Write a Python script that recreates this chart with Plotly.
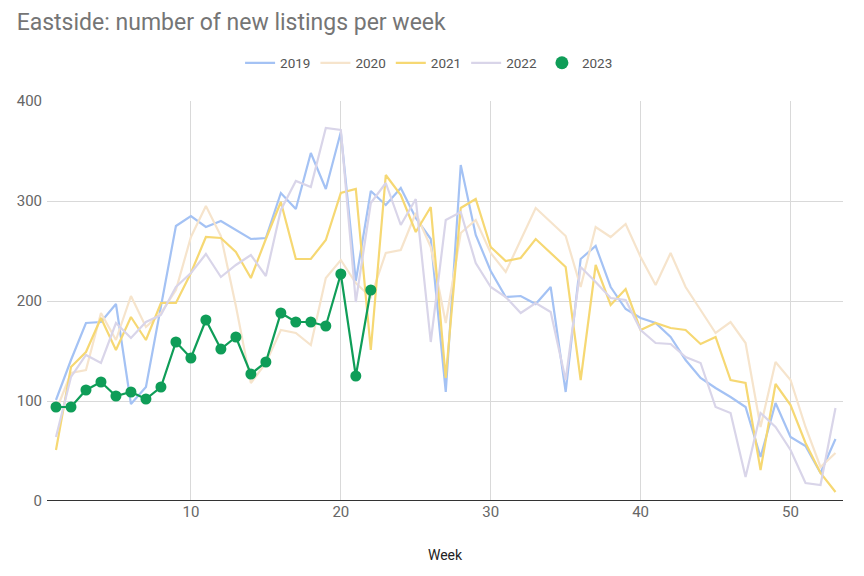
import plotly.graph_objects as go

weeks = list(range(1, 54))

y2019 = [101, 141, 178, 179, 197, 97, 114, 194, 275, 285, 274, 280, 271, 262, 263, 308, 292, 348, 312, 369,
         220, 310, 296, 313, 283, 262, 109, 336, 266, 230, 204, 205, 197, 214, 109, 242, 255, 214, 192, 183,
         178, 164, 141, 123, 113, 104, 94, 44, 98, 64, 55, 28, 62]
y2020 = [90, 128, 131, 188, 161, 205, 174, 188, 211, 264, 295, 265, 195, 118, 138, 171, 168, 156, 223, 241,
         218, 204, 248, 251, 288, 254, 178, 268, 281, 248, 229, 261, 293, 279, 265, 214, 274, 264, 277, 244,
         216, 248, 214, 191, 168, 179, 158, 74, 139, 121, 74, 34, 48]
y2021 = [51, 134, 149, 183, 151, 184, 161, 198, 198, 228, 264, 263, 249, 223, 262, 299, 242, 242, 261, 308,
         312, 151, 326, 306, 269, 294, 123, 293, 302, 254, 240, 243, 262, 248, 234, 121, 236, 196, 212, 171,
         178, 173, 171, 157, 164, 121, 118, 31, 117, 96, 58, 28, 9]
y2022 = [64, 124, 146, 138, 178, 163, 179, 186, 214, 228, 247, 224, 236, 246, 225, 291, 320, 314, 373, 371,
         199, 298, 318, 276, 302, 159, 281, 289, 238, 214, 204, 188, 198, 189, 121, 234, 219, 203, 201, 171,
         158, 157, 144, 138, 94, 88, 24, 88, 74, 51, 18, 16, 93]
y2023 = [94, 94, 111, 119, 105, 109, 102, 114, 159, 143, 181, 152, 164, 127, 139, 188, 179, 179, 175, 227,
         125, 211]

series_names = ["2019", "2020", "2021", "2022"]
series_values = [y2019, y2020, y2021, y2022]
series_colors = ["#a4c2f4", "#f6e4cc", "#f6d873", "#d9d5e9"]

x_ticks = [10, 20, 30, 40, 50]
y_ticks = [0, 100, 200, 300, 400]

fig = go.Figure()
for name, vals, col in zip(series_names, series_values, series_colors):
    fig.add_trace(go.Scatter(x=weeks[:len(vals)], y=vals, mode="lines", name=name,
                             line=dict(color=col, width=2.2)))
fig.add_trace(go.Scatter(x=weeks[:len(y2023)], y=y2023, mode="lines+markers", name="2023",
                         line=dict(color="#0f9d58", width=2.2),
                         marker=dict(color="#0f9d58", size=11), showlegend=False))
fig.add_trace(go.Scatter(x=[None], y=[None], mode="markers", name="2023",
                         marker=dict(color="#0f9d58", size=13)))

fig.update_layout(
    width=864, height=576,
    margin=dict(l=39, r=29, t=93, b=83, autoexpand=False),
    plot_bgcolor="white", paper_bgcolor="white",
    font=dict(family="Roboto", color="#555555", size=14),
    title=dict(text="Eastside: number of new listings per week", x=0.01, xanchor="left",
               y=0.975, yanchor="middle",
               font=dict(family="Roboto", size=23, color="#757575")),
    legend=dict(orientation="h", x=0.48, xanchor="center", y=1.095, yanchor="middle",
                font=dict(size=13.5, color="#555555"), itemwidth=30, bgcolor="rgba(0,0,0,0)"),
    showlegend=True,
)
fig.update_xaxes(range=[0.4, 53.5], tickvals=x_ticks, showgrid=True, gridcolor="#d9d9d9",
                 gridwidth=1, zeroline=False, showline=False, ticks="", automargin=False,
                 title=dict(text="Week", font=dict(size=14, color="#222222"), standoff=30),
                 tickfont=dict(size=15, color="#666666"))
fig.update_yaxes(range=[0, 400], tickvals=y_ticks, showgrid=True, gridcolor="#d9d9d9",
                 gridwidth=1, zeroline=False, showline=False, ticks="", automargin=False,
                 ticklabelstandoff=4,
                 tickfont=dict(size=15, color="#666666"))
fig.add_shape(type="line", xref="paper", yref="y", x0=0, x1=1, y0=0, y1=0,
              line=dict(color="#333333", width=2), layer="above")

fig.write_html("out.html")
